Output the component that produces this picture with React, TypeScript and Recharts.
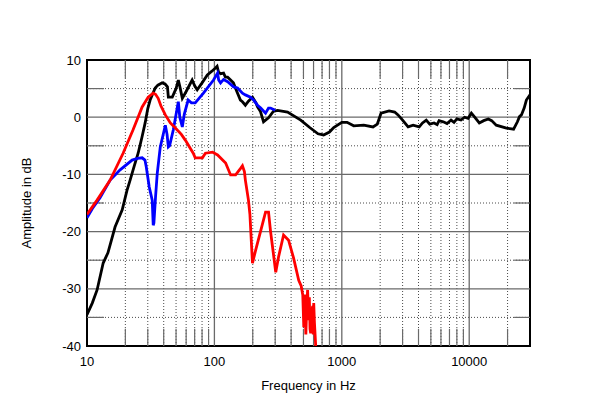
import React from "react";
import {
  LineChart,
  Line,
  XAxis,
  YAxis,
  ReferenceLine,
  ReferenceArea,
  Label,
} from "recharts";

// ---------------------------------------------------------------------------
// Data: [frequency Hz, amplitude dB]
// ---------------------------------------------------------------------------
const blackCurve: [number, number][] = [
  [10, -34.5], [11, -32.5], [12, -30.2], [13.4, -25.5], [14.6, -23.7],
  [16.6, -19.2], [18.9, -16.2], [20.6, -12.8], [21.8, -11], [23.5, -8.5],
  [25.2, -6.3], [27, -3.5], [28.6, -1], [30, 1.5], [31.3, 3], [34.3, 5.1],
  [36, 5.6], [38.9, 6], [41, 5.8], [42.8, 5.3], [43.5, 3.5], [46.7, 3.5],
  [50, 5], [52.1, 6.5], [54, 5], [56, 3.3], [60, 4.5], [66.9, 6.5],
  [70, 5.5], [73.3, 4.8], [80, 6], [88, 7.4], [95, 8], [102, 8.6],
  [105, 8.9], [107.8, 7.9], [112, 7.6], [118, 7.7], [122, 7], [127, 7],
  [134, 6.5], [141, 6], [150, 4.5], [160, 3], [166, 2.7], [175, 2.1],
  [185, 2.8], [199, 3.5], [212, 2.5], [218, 1.8], [230, 1], [243, -0.8],
  [252, -0.5], [266, -0.1], [290, 1], [313, 1.2], [375, 0.9], [476, -0.5],
  [560, -1.8], [650, -2.9], [720, -3.1], [800, -2.6], [864, -1.8],
  [1000, -0.9], [1100, -0.9], [1240, -1.5], [1487, -1.4], [1757, -1.7],
  [1900, -1.2], [2032, 0.7], [2350, 1.1], [2600, 0.9], [2762, 0.4],
  [3000, -0.5], [3315, -1.7], [3630, -1.4], [4050, -1.7], [4300, -1.0],
  [4600, -0.5], [4900, -1.2], [5300, -1.0], [5600, -1.3], [5800, -0.6],
  [6250, -0.8], [6700, -1.1], [7200, -0.5], [7600, -0.9], [8000, -0.3],
  [8620, -0.5], [9200, 0], [9800, -0.2], [10400, 0.7], [10960, 0.1],
  [12000, -1], [13000, -0.6], [14120, -0.3], [15000, -0.6], [16300, -1.4],
  [19600, -1.9], [22300, -2.1], [23900, -0.8], [24800, 0.1], [25700, 0.4],
  [27000, 1.6], [28100, 3], [30000, 3.9],
];

const blueCurve: [number, number][] = [
  [10, -17.6], [11, -16], [12.66, -14.1], [15.2, -11], [18.2, -9.2],
  [22.6, -7.5], [25, -7.2], [27.1, -7.1], [28.5, -7.5], [29.2, -8.7],
  [30.8, -12.2], [32.5, -14.5], [33.1, -18.9], [33.5, -18.5], [34.5, -14],
  [35.6, -9.8], [37.6, -5.2], [41.2, -1.4], [42.5, -3], [43.5, -5.2],
  [44.5, -5], [47.6, -2.2], [52.1, 2.7], [53.5, 0], [56, -1.7], [58, 0.5],
  [62.2, 3], [66, 2.5], [70.7, 2.5], [82, 4.2], [98.4, 6.5], [105.9, 7.7],
  [108, 6.5], [111.8, 6], [118, 6.6], [127, 6.2], [141.5, 5.3], [152, 5.1],
  [166, 4.2], [175, 3.9], [192, 3.5], [203, 3], [218, 2.1], [231, 1.6],
  [252, 0.7], [266, 1.6], [276, 1.6], [300, 1.2],
];

const redCurve: [number, number][] = [
  [10, -17], [12, -14.5], [15.2, -11], [19.2, -6.3], [23, -2.2],
  [27.1, 1.8], [30.2, 3.5], [33.1, 4.2], [34.5, 4], [36.2, 3.3], [38, 2],
  [41.2, 0.4], [45.1, -1], [49.4, -1.9], [55, -3], [59.1, -4], [68.2, -6.3],
  [70.7, -7.1], [80.5, -7.1], [85, -6.3], [96.6, -6.1], [105.9, -6.6],
  [122.5, -8], [134, -10.1], [146.7, -10.1], [160, -9], [166, -8.5],
  [172, -9.5], [175, -11], [185, -14.5], [190, -17], [199, -25.5],
  [211, -23.2], [230, -20], [252, -16.6], [266, -16.6], [276, -20],
  [286, -22.7], [303, -27.1], [319, -24.4], [349, -20.6], [382, -21.5],
  [418, -24.6], [459, -28.5], [480, -29.5], [494, -31.1], [503, -36.7],
  [510, -31], [515, -33], [522, -38], [530, -33.5], [539, -30.2],
  [549, -35.5], [556, -31.5], [563, -37], [570, -37.8], [580, -34],
  [591, -33], [597, -38], [602, -32.5], [610, -36], [624, -40],
];

const xTicks = [10, 100, 1000, 10000];
const yTicks = [-40, -30, -20, -10, 0, 10];
const majorX = [100, 1000, 10000];
const minorX = [
  20, 30, 40, 50, 60, 70, 80, 90,
  200, 300, 400, 500, 600, 700, 800, 900,
  2000, 3000, 4000, 5000, 6000, 7000, 8000, 9000,
  20000,
];
const majorY = [0, -10, -20, -30];
const minorY = [5, -5, -15, -25, -35];

const toPoints = (c: [number, number][]) => c.map(([f, db]) => ({ f, db }));

const GRID = "#6a6a6a";
const DOTS = "#4a4a4a";
const FONT = '"Liberation Sans", Arial, Helvetica, sans-serif';

export default function App() {
  return (
    <div
      style={{
        position: "absolute",
        left: 0,
        top: 0,
        width: 600,
        height: 407,
        background: "#fff",
        fontFamily: FONT,
      }}
    >
      <LineChart
        width={600}
        height={407}
        margin={{ top: 60, right: 70, bottom: 11, left: 47 }}
      >
        <XAxis
          type="number"
          dataKey="f"
          scale="log"
          domain={[10, 30000]}
          ticks={xTicks}
          allowDataOverflow
          axisLine={false}
          tickLine={false}
          tickSize={0}
          tickMargin={11}
          height={50}
          tick={{ fontSize: 13, fill: "#000", fontFamily: FONT }}
        >
          <Label
            value="Frequency in Hz"
            position="insideBottom"
            offset={6}
            style={{ fontSize: 13, fill: "#000", fontFamily: FONT }}
          />
        </XAxis>
        <YAxis
          type="number"
          domain={[-40, 10]}
          ticks={yTicks}
          allowDataOverflow
          axisLine={false}
          tickLine={false}
          tickSize={0}
          tickMargin={6}
          width={40}
          tick={{ fontSize: 13, fill: "#000", fontFamily: FONT }}
        >
          <Label
            value="Amplitude in dB"
            angle={-90}
            position="insideLeft"
            offset={-21}
            style={{ fontSize: 13, fill: "#000", fontFamily: FONT, textAnchor: "middle" }}
          />
        </YAxis>

        {minorX.map((x) => (
          <ReferenceLine key={`mx${x}`} x={x} stroke={DOTS} strokeDasharray="1 2" />
        ))}
        {minorY.map((y) => (
          <ReferenceLine key={`my${y}`} y={y} stroke={DOTS} strokeDasharray="1 2" />
        ))}
        {minorX.map((x) => (
          <ReferenceLine
            key={`tb${x}`}
            segment={[{ x, y: -40 }, { x, y: -37 }]}
            stroke={GRID}
            strokeWidth={1.2}
          />
        ))}
        {minorX.map((x) => (
          <ReferenceLine
            key={`tt${x}`}
            segment={[{ x, y: 10 }, { x, y: 6.8 }]}
            stroke={GRID}
            strokeWidth={1.2}
          />
        ))}
        {minorY.map((y) => (
          <ReferenceLine
            key={`tl${y}`}
            segment={[{ x: 10, y }, { x: 13.6, y }]}
            stroke={GRID}
            strokeWidth={1.2}
          />
        ))}
        {minorY.map((y) => (
          <ReferenceLine
            key={`tr${y}`}
            segment={[{ x: 22500, y }, { x: 30000, y }]}
            stroke={GRID}
            strokeWidth={1.2}
          />
        ))}
        {majorX.map((x) => (
          <ReferenceLine key={`Mx${x}`} x={x} stroke={GRID} strokeWidth={1.3} />
        ))}
        {majorY.map((y) => (
          <ReferenceLine key={`My${y}`} y={y} stroke={GRID} strokeWidth={1.3} />
        ))}

        <Line
          data={toPoints(blackCurve)}
          dataKey="db"
          type="linear"
          stroke="#000"
          strokeWidth={2.8}
          dot={false}
          isAnimationActive={false}
        />
        <Line
          data={toPoints(blueCurve)}
          dataKey="db"
          type="linear"
          stroke="#0000ff"
          strokeWidth={2.8}
          dot={false}
          isAnimationActive={false}
        />
        <Line
          data={toPoints(redCurve)}
          dataKey="db"
          type="linear"
          stroke="#ff0000"
          strokeWidth={2.8}
          dot={false}
          isAnimationActive={false}
        />

        <ReferenceArea
          x1={10}
          x2={30000}
          y1={-40}
          y2={10}
          fill="none"
          fillOpacity={0}
          stroke="#000"
          strokeWidth={2}
        />
      </LineChart>
    </div>
  );
}
